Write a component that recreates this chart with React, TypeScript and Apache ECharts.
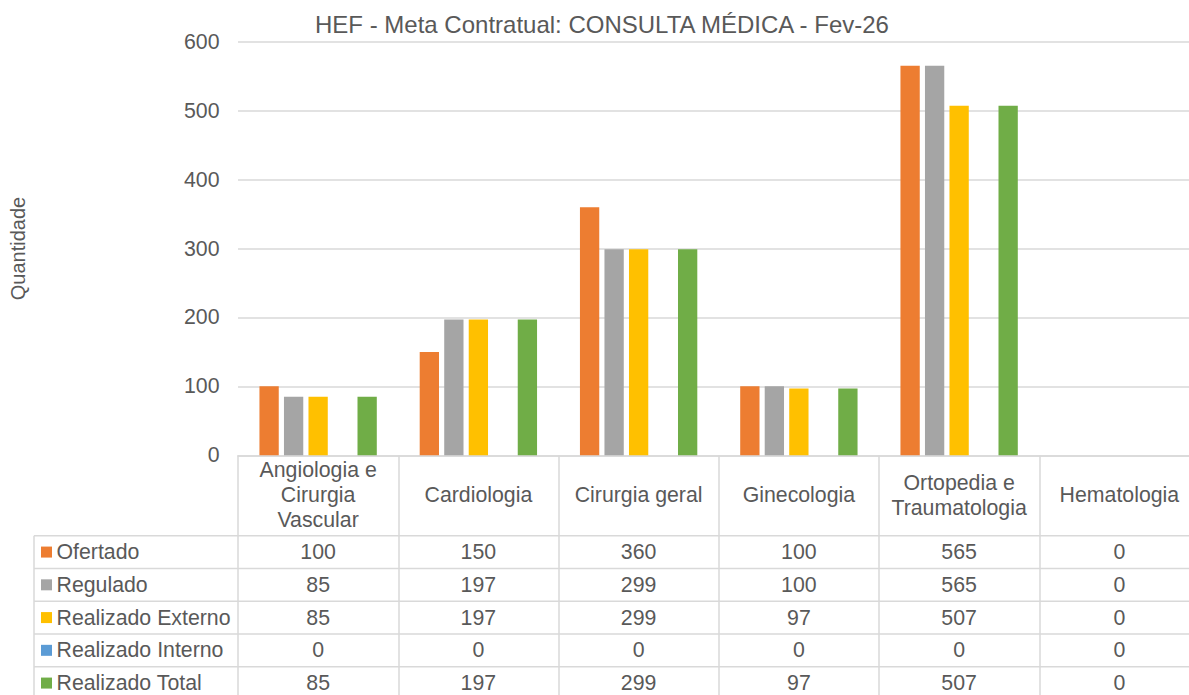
import React, { useEffect, useRef } from "react";
import * as echarts from "echarts";

const titleText = "HEF - Meta Contratual: CONSULTA MÉDICA - Fev-26";
const yAxisName = "Quantidade";
const categories = [
  "Angiologia e\nCirurgia\nVascular",
  "Cardiologia",
  "Cirurgia geral",
  "Ginecologia",
  "Ortopedia e\nTraumatologia",
  "Hematologia",
];
const seriesNames = ["Ofertado", "Regulado", "Realizado Externo", "Realizado Interno", "Realizado Total"];
const seriesColors = ["#ED7D31", "#A5A5A5", "#FFC000", "#5B9BD5", "#70AD47"];
const ofertado = [100, 150, 360, 100, 565, 0];
const regulado = [85, 197, 299, 100, 565, 0];
const realizadoExterno = [85, 197, 299, 97, 507, 0];
const realizadoInterno = [0, 0, 0, 0, 0, 0];
const realizadoTotal = [85, 197, 299, 97, 507, 0];
const seriesValues = [ofertado, regulado, realizadoExterno, realizadoInterno, realizadoTotal];
const yTicks = { min: 0, max: 600, interval: 100 };

const FONT = "'Liberation Sans', Arial, sans-serif";
const TEXT = "#595959";
const LINE = "#D9D9D9";

const GRID_LEFT = 237.7;
const GRID_TOP = 41.7;
const GRID_W = 961.8;
const GRID_H = 413.6;
const TABLE_TOP = 535.7;
const ROW_H = 32.75;
const TABLE_LEFT = 34;

export default function App() {
  const ref = useRef<HTMLDivElement>(null);
  useEffect(() => {
    if (!ref.current) return;
    const chart = echarts.init(ref.current, undefined, { renderer: "svg" });
    chart.setOption({
      animation: false,
      backgroundColor: "#fff",
      textStyle: { fontFamily: FONT },
      title: {
        text: titleText,
        left: 315,
        top: 12,
        padding: 0,
        textStyle: { fontFamily: FONT, fontSize: 24, fontWeight: "normal", color: TEXT },
      },
      grid: { left: GRID_LEFT, top: GRID_TOP, width: GRID_W, height: GRID_H, containLabel: false },
      xAxis: {
        type: "category",
        data: categories,
        axisLine: { show: true, lineStyle: { color: LINE, width: 1.5 } },
        axisTick: { show: true, length: 260, lineStyle: { color: LINE, width: 1.5 } },
        axisLabel: {
          interval: 0,
          margin: 40,
          verticalAlign: "middle",
          lineHeight: 25,
          fontSize: 21.3,
          color: TEXT,
          fontFamily: FONT,
        },
      },
      yAxis: {
        type: "value",
        min: yTicks.min,
        max: yTicks.max,
        interval: yTicks.interval,
        name: yAxisName,
        nameLocation: "middle",
        nameRotate: 90,
        nameGap: 210,
        nameTextStyle: { fontSize: 20, color: TEXT, fontFamily: FONT },
        axisLine: { show: false },
        axisTick: { show: false },
        axisLabel: { fontSize: 21.3, color: TEXT, margin: 18.5, fontFamily: FONT },
        splitLine: { lineStyle: { color: LINE, width: 1.5 } },
      },
      series: seriesNames.map((name, i) => ({
        name,
        type: "bar",
        data: seriesValues[i],
        barWidth: 19.3,
        barGap: "27%",
        itemStyle: { color: seriesColors[i] },
      })),
    });

    const colX = categories.map((_, j) => chart.convertToPixel({ xAxisIndex: 0 }, j) as number);
    const rightEdge = GRID_LEFT + GRID_W;
    const elements: any[] = [];
    for (let r = 0; r <= seriesNames.length; r++) {
      const y = TABLE_TOP + r * ROW_H;
      elements.push({
        type: "line",
        shape: { x1: TABLE_LEFT, y1: y, x2: rightEdge, y2: y },
        style: { stroke: LINE, lineWidth: 1.5 },
      });
    }
    elements.push({
      type: "line",
      shape: { x1: TABLE_LEFT, y1: TABLE_TOP, x2: TABLE_LEFT, y2: TABLE_TOP + ROW_H * seriesNames.length },
      style: { stroke: LINE, lineWidth: 1.5 },
    });
    seriesNames.forEach((name, i) => {
      const cy = TABLE_TOP + i * ROW_H + ROW_H / 2;
      elements.push({
        type: "rect",
        shape: { x: 41, y: cy - 5.5, width: 11, height: 11 },
        style: { fill: seriesColors[i] },
      });
      elements.push({
        type: "text",
        x: 56.5,
        y: cy,
        style: { text: name, fill: TEXT, font: `21.3px ${FONT}`, textAlign: "left", textVerticalAlign: "middle" },
      });
      seriesValues[i].forEach((v, j) => {
        elements.push({
          type: "text",
          x: colX[j],
          y: cy,
          style: { text: String(v), fill: TEXT, font: `21.3px ${FONT}`, textAlign: "center", textVerticalAlign: "middle" },
        });
      });
    });
    chart.setOption({ graphic: { elements } });

    return () => chart.dispose();
  }, []);
  return (
    <div
      style={{ position: "absolute", left: 0, top: 0, width: 1189, height: 695, overflow: "hidden", background: "#fff" }}
    >
      <div ref={ref} style={{ width: 1210, height: 695 }} />
    </div>
  );
}
